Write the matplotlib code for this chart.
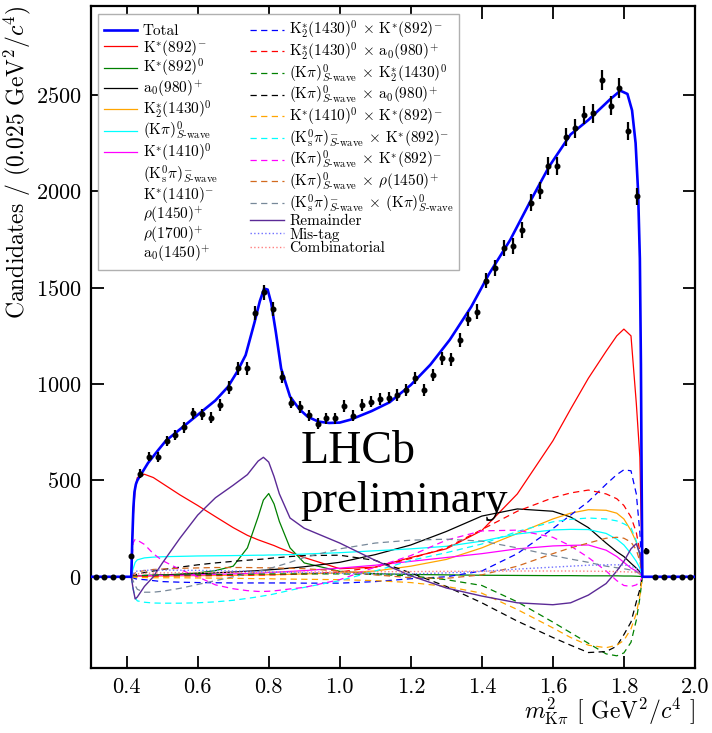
import numpy as np
import matplotlib.pyplot as plt
from matplotlib.lines import Line2D

plt.rcParams['font.family'] = ['cmr10', 'DejaVu Serif']
plt.rcParams['mathtext.fontset'] = 'cm'
plt.rcParams['axes.formatter.use_mathtext'] = True
plt.rcParams['axes.unicode_minus'] = False

# data: bins of 0.025 GeV^2/c^4
bin_lo, bin_w = 0.3, 0.025
counts = [0, 0, 0, 0, 110, 534, 624, 621, 705, 736, 776, 849, 844, 826, 892, 982,
          1082, 1082, 1368, 1475, 1390, 1036, 904, 880, 837, 794, 823, 823, 885, 835,
          892, 909, 922, 930, 944, 970, 1030, 970, 1048, 1134, 1129, 1229, 1337, 1376,
          1537, 1601, 1705, 1718, 1800, 1941, 2003, 2132, 2132, 2281, 2327, 2396, 2405,
          2578, 2443, 2535, 2313, 1973, 136, 0, 0, 0, 0, 0]

# total fit
tot_x = [0.30, 0.413, 0.416, 0.419, 0.422, 0.426, 0.43, 0.44, 0.46, 0.49, 0.51, 0.56,
         0.6, 0.65, 0.685, 0.71, 0.735, 0.76, 0.775, 0.787, 0.797, 0.807, 0.82, 0.835,
         0.86, 0.886, 0.91, 0.94, 0.97, 1.0, 1.03, 1.09, 1.14, 1.2, 1.255, 1.31, 1.37,
         1.42, 1.48, 1.54, 1.59, 1.65, 1.7, 1.76, 1.79, 1.81, 1.823, 1.833, 1.84, 1.845,
         1.848, 1.85, 1.852, 2.0]
tot_y = [0, 0, 200, 360, 440, 480, 500, 530, 590, 660, 705, 780, 840, 915, 985, 1060,
         1150, 1320, 1430, 1495, 1490, 1420, 1270, 1080, 935, 870, 830, 805, 798, 800,
         815, 860, 905, 995, 1100, 1230, 1400, 1570, 1748, 1960, 2130, 2295, 2370, 2475,
         2522, 2505, 2420, 2250, 2000, 1650, 1100, 500, 0, 0]

# components on a common grid
cx = [0.413, 0.418, 0.424, 0.43, 0.45, 0.475, 0.5, 0.55, 0.6, 0.65, 0.7, 0.74, 0.77,
      0.785, 0.8, 0.815, 0.83, 0.86, 0.9, 1.0, 1.1, 1.2, 1.3, 1.4, 1.5, 1.6, 1.65, 1.7,
      1.75, 1.78, 1.8, 1.82, 1.835, 1.845, 1.852]
kst892m = [0, 300, 460, 515, 532, 515, 485, 425, 370, 312, 255, 215, 192, 182, 172, 162,
           150, 128, 100, 42, 50, 100, 145, 240, 430, 705, 870, 1030, 1170, 1250, 1285,
           1250, 900, 620, 0]
kst892z = [0, 1, 2, 3, 5, 7, 9, 14, 20, 32, 55, 150, 310, 398, 432, 378, 287, 150, 72,
           28, 16, 12, 10, 8, 7, 6, 6, 5, 5, 5, 4, 4, 3, 2, 0]
a0980 = [0, 2, 4, 5, 7, 8, 9, 12, 15, 20, 25, 29, 32, 34, 36, 38, 40, 45, 52, 75, 115,
         165, 235, 315, 352, 340, 310, 255, 175, 130, 105, 70, 45, 25, 0]
k21430 = [0, 1, 2, 2, 3, 4, 4, 5, 6, 7, 8, 9, 10, 10, 11, 11, 12, 13, 15, 20, 30, 55, 90,
          150, 225, 300, 330, 348, 345, 330, 300, 240, 180, 110, 0]
kpi_s = [0, 40, 75, 88, 98, 102, 104, 106, 108, 109, 110, 111, 112, 112, 113, 113, 114,
         115, 118, 125, 135, 145, 158, 185, 222, 243, 246, 245, 225, 195, 165, 120, 80,
         45, 0]
kst1410z = [0, 2, 3, 4, 5, 6, 7, 8, 10, 12, 15, 17, 19, 20, 22, 23, 25, 28, 32, 45, 60,
            80, 100, 120, 145, 160, 163, 165, 138, 105, 75, 45, 30, 15, 0]
i_k2_kst = [0, -5, -10, -12, -15, -20, -25, -28, -30, -31, -32, -32, -32, -32, -32, -32,
            -32, -32, -33, -33, -25, -10, 0, 30, 120, 250, 320, 390, 480, 530, 555, 550,
            430, 230, 0]
i_k2_a0 = [0, 1, 2, 2, 3, 3, 4, 5, 5, 6, 7, 8, 9, 9, 10, 10, 11, 12, 15, 25, 50, 95, 150,
           245, 340, 410, 435, 450, 430, 405, 370, 310, 230, 130, 0]
i_s_k2 = [0, 2, 4, 5, 7, 8, 9, 10, 10, 11, 12, 13, 14, 14, 15, 15, 15, 15, 15, 15, 12, 5,
          -15, -45, -130, -235, -290, -345, -400, -410, -395, -340, -225, -110, 0]
i_s_a0 = [0, 5, 10, 14, 22, 30, 37, 50, 62, 72, 80, 86, 90, 92, 95, 98, 100, 105, 110,
          112, 85, 20, -50, -135, -230, -315, -355, -393, -388, -360, -300, -235, -130,
          -65, 0]
i_k1410_kst = [0, -1, -2, -3, -4, -5, -5, -5, -6, -7, -8, -9, -10, -10, -10, -11, -11,
               -12, -13, -15, -20, -30, -50, -85, -170, -265, -315, -355, -368, -355,
               -330, -270, -190, -100, 0]
i_ks_kst = [0, -60, -110, -125, -132, -136, -137, -137, -135, -130, -122, -112, -104, -99,
            -95, -89, -83, -70, -55, -20, 30, 85, 125, 170, 235, 285, 298, 305, 300, 290,
            275, 255, 185, 110, 0]
i_s_kst = [0, 175, 195, 190, 168, 120, 85, 38, 0, -42, -62, -72, -76, -76, -75, -73, -70,
           -63, -55, -15, 50, 110, 190, 238, 242, 205, 160, 100, 30, -20, -45, -50, -42,
           -25, 0]
i_s_rho = [0, 10, 20, 25, 32, 38, 40, 44, 46, 48, 48, 48, 47, 47, 46, 46, 45, 44, 42, 30,
           10, -5, -8, 10, 55, 120, 150, 175, 200, 205, 200, 180, 140, 80, 0]
i_ks_s = [0, -20, -45, -65, -80, -80, -75, -60, -40, -20, 0, 15, 28, 35, 42, 50, 58, 75,
          100, 145, 175, 190, 195, 185, 150, 110, 92, 75, 55, 47, 42, 35, 25, 15, 0]
remainder = [0, -60, -115, -105, -50, 0, 70, 200, 320, 410, 475, 530, 600, 620, 595, 520,
             430, 305, 252, 175, 85, 5, -58, -100, -135, -145, -135, -95, -35, 30, 80,
             145, 172, 120, 0]
mistag = [0, 15, 25, 30, 33, 35, 35, 34, 33, 32, 30, 28, 27, 26, 25, 25, 24, 23, 22, 18,
          15, 15, 20, 28, 40, 50, 55, 60, 62, 62, 62, 55, 45, 30, 0]
combinatorial = [0, 8, 12, 15, 18, 19, 20, 21, 22, 22, 23, 23, 23, 24, 24, 24, 24, 24, 25,
                 25, 26, 27, 28, 29, 30, 30, 30, 29, 28, 27, 26, 25, 22, 15, 0]

SW = r'_{S\text{-wave}}'
KPI = r'(\mathrm{K}\pi)^{0}' + SW
KSPI = r'(\mathrm{K}^{0}_{\mathrm{s}}\pi)^{-}' + SW
solid = [
    (kst892m, 'red', r'$\mathrm{K}^{*}(892)^{-}$'),
    (kst892z, 'green', r'$\mathrm{K}^{*}(892)^{0}$'),
    (a0980, 'black', r'$\mathrm{a}_{0}(980)^{+}$'),
    (k21430, 'orange', r'$\mathrm{K}^{*}_{2}(1430)^{0}$'),
    (kpi_s, 'cyan', '$' + KPI + '$'),
    (kst1410z, 'magenta', r'$\mathrm{K}^{*}(1410)^{0}$'),
]
empty_labels = ['$' + KSPI + '$', r'$\mathrm{K}^{*}(1410)^{-}$', r'$\rho(1450)^{+}$',
                r'$\rho(1700)^{+}$', r'$\mathrm{a}_{0}(1450)^{+}$']
dashed = [
    (i_k2_kst, 'blue', r'$\mathrm{K}^{*}_{2}(1430)^{0}\,\times\,\mathrm{K}^{*}(892)^{-}$'),
    (i_k2_a0, 'red', r'$\mathrm{K}^{*}_{2}(1430)^{0}\,\times\,\mathrm{a}_{0}(980)^{+}$'),
    (i_s_k2, 'green', '$' + KPI + r'\,\times\,\mathrm{K}^{*}_{2}(1430)^{0}$'),
    (i_s_a0, 'black', '$' + KPI + r'\,\times\,\mathrm{a}_{0}(980)^{+}$'),
    (i_k1410_kst, 'orange', r'$\mathrm{K}^{*}(1410)^{0}\,\times\,\mathrm{K}^{*}(892)^{-}$'),
    (i_ks_kst, 'cyan', '$' + KSPI + r'\,\times\,\mathrm{K}^{*}(892)^{-}$'),
    (i_s_kst, 'magenta', '$' + KPI + r'\,\times\,\mathrm{K}^{*}(892)^{-}$'),
    (i_s_rho, 'chocolate', '$' + KPI + r'\,\times\,\rho(1450)^{+}$'),
    (i_ks_s, 'lightslategray', '$' + KSPI + r'\,\times\,' + KPI + '$'),
]

fig = plt.figure(figsize=(7.12, 7.33), dpi=100)
ax = fig.add_axes([0.128, 0.089, 0.848, 0.903])

handles = []
h, = ax.plot(tot_x, tot_y, color='blue', lw=1.9, zorder=5, label='Total')
handles.append(h)
for ys, c, lab in solid:
    h, = ax.plot(cx, ys, color=c, lw=0.9, label=lab)
    handles.append(h)
for lab in empty_labels:
    handles.append(Line2D([], [], color='none', label=lab))
for ys, c, lab in dashed:
    h, = ax.plot(cx, ys, color=c, lw=0.9, ls=(0, (5, 3.5)), label=lab)
    handles.append(h)
h, = ax.plot(cx, remainder, color='#5b2a96', lw=1.0, label='Remainder')
handles.append(h)
h, = ax.plot(cx, mistag, color='#6f6fff', lw=1.0, ls=':', label='Mis-tag')
handles.append(h)
h, = ax.plot(cx, combinatorial, color='#ff7f7f', lw=1.0, ls=':', label='Combinatorial')
handles.append(h)

bx = bin_lo + bin_w * (np.arange(len(counts)) + 0.5)
cnt = np.array(counts, dtype=float)
ax.errorbar(bx, cnt, yerr=np.sqrt(cnt), fmt='o', color='black', ms=3.3, elinewidth=1.6,
            capsize=0, zorder=6)

ax.set_xlim(0.3, 2.0)
ax.set_ylim(-472, 2962)
ax.set_xticks(np.arange(0.4, 2.01, 0.2))
ax.set_xticklabels(['0.4', '0.6', '0.8', '1.0', '1.2', '1.4', '1.6', '1.8', '2.0'])
ax.set_yticks([0, 500, 1000, 1500, 2000, 2500])
ax.tick_params(direction='in', length=9, width=1.3, labelsize=16, pad=7,
               top=True, right=True)
for s in ax.spines.values():
    s.set_linewidth(1.6)

ax.set_ylabel(r'Candidates / (0.025 GeV$^{2}$/$c^{4}$)', fontsize=17, loc='top',
              labelpad=2)
ax.set_xlabel(r'$m^{2}_{\mathrm{K}\pi}$ [ GeV$^{2}$/$c^{4}$ ]', fontsize=17, loc='right',
              labelpad=-1)

ax.text(0.89, 590, 'LHCb', family='Liberation Serif', fontsize=33, va='baseline')
ax.text(0.89, 335, 'preliminary', family='Liberation Serif', fontsize=32, va='baseline')

leg = ax.legend(handles=handles, ncol=2, loc='upper left', bbox_to_anchor=(0.012, 0.988),
                borderaxespad=0, fontsize=11, handlelength=2.2, handletextpad=0.35,
                columnspacing=2.1, labelspacing=-0.03, fancybox=False, framealpha=1,
                edgecolor='#b0b0b0', borderpad=0.35)
leg.get_frame().set_linewidth(1.0)

fig.savefig('out.png', dpi=100)
